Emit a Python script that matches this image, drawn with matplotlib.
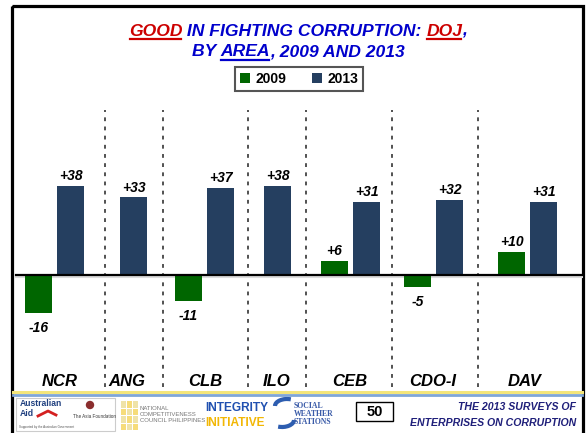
import matplotlib
matplotlib.use("Agg")
import matplotlib.pyplot as plt
from matplotlib.patches import Rectangle, Arc
from matplotlib.transforms import blended_transform_factory

plt.rcParams['font.family'] = ['Liberation Sans', 'DejaVu Sans']

# data
areas = ["NCR", "ANG", "CLB", "ILO", "CEB", "CDO-I", "DAV"]
v2009 = [-16, None, -11, None, 6, -5, 10]
v2013 = [38, 33, 37, 38, 31, 32, 31]
series_names = ["2009", "2013"]

# layout (x in pixels of the 586 px wide figure)
centers = [54.5, 133.5, 204.5, 277.5, 350.5, 433.5, 527.5]
label_x = [60, 127, 205, 277, 350, 433, 525]
dividers = [105, 163, 248, 306, 392, 478]
BAR_W = 27
OFF = 16
GREEN = "#006600"
NAVY = "#253F60"
BLUE = "#0000CC"
RED = "#CC0000"

W, H = 586, 433
fig = plt.figure(figsize=(W / 100, H / 100), dpi=100)

# decoration layer in pixel coordinates
deco = fig.add_axes([0, 0, 1, 1], zorder=0)
deco.set_xlim(0, W)
deco.set_ylim(H, 0)
deco.axis("off")

# chart axes: x in pixels, y in data units
top_px, bot_px, zero_px, px_per = 100, 390, 275, 2.35
ax = fig.add_axes([13 / W, (H - bot_px) / H, 570 / W, (bot_px - top_px) / H],
                  zorder=2)
ax.patch.set_alpha(0)
ax.set_xlim(13, 583)
ax.set_ylim(-(bot_px - zero_px) / px_per, (zero_px - top_px) / px_per)
ax.axis("off")

h09 = h13 = None
for c, a, b in zip(centers, v2009, v2013):
    if a is None:
        xb = c
    else:
        xa, xb = c - OFF, c + OFF
        h09 = ax.bar(xa, a, width=BAR_W, color=GREEN, zorder=3)
        lab = f"+{a}" if a > 0 else f"{a}"
        ax.annotate(lab, (xa, a), xytext=(0, 2 if a > 0 else -6),
                    textcoords="offset points", ha="center",
                    va="bottom" if a > 0 else "top",
                    fontsize=10, fontweight="bold", fontstyle="italic")
    h13 = ax.bar(xb, b, width=BAR_W, color=NAVY, zorder=3)
    ax.annotate(f"+{b}", (xb, b), xytext=(0, 2), textcoords="offset points",
                ha="center", va="bottom", fontsize=10, fontweight="bold",
                fontstyle="italic")

ax.axhline(-0.9, xmin=3 / 570, color="#dddddd", lw=1.5, zorder=2)
ax.axhline(0, xmin=3 / 570, color="black", lw=1.6, zorder=4)
for d in dividers:
    ax.axvline(d, ymin=0.01, ymax=(bot_px - 110) / (bot_px - top_px),
               color="#222222", lw=1.1, dashes=(2.5, 3.5), zorder=1)

trans = blended_transform_factory(ax.transData, ax.transAxes)
for x, name in zip(label_x, areas):
    ax.text(x, (bot_px - 381) / (bot_px - top_px), name, transform=trans,
            ha="center", va="center", fontsize=12, fontweight="bold",
            fontstyle="italic")

leg = ax.legend([h09, h13], series_names, loc="center",
                bbox_to_anchor=(299 / W, 1 - 79 / H),
                bbox_transform=fig.transFigure, ncol=2, fancybox=False,
                framealpha=1, edgecolor="#555555", handlelength=0.75,
                handleheight=0.75, handletextpad=0.4, columnspacing=1.8,
                borderpad=0.35, borderaxespad=0,
                prop={"weight": "bold", "size": 10})
leg.get_frame().set_linewidth(1.5)

# frame
deco.add_patch(Rectangle((12, 6), 571, 450, fill=False, lw=2.3,
                         edgecolor="black"))

# title, drawn piece by piece so some words can be red and underlined
renderer = fig.canvas.get_renderer()
title_lines = [
    (31, [("GOOD", RED, True), (" IN FIGHTING CORRUPTION: ", BLUE, False),
          ("DOJ", RED, True), (",", BLUE, False)]),
    (52, [("BY ", BLUE, False), ("AREA", BLUE, True),
          (", 2009 AND 2013", BLUE, False)]),
]
for y, parts in title_lines:
    texts = []
    for s, col, ul in parts:
        t = deco.text(0, y, s, color=col, fontsize=12.6, fontweight="bold",
                      fontstyle="italic", ha="left", va="center")
        texts.append((t, col, ul))
    widths = [t.get_window_extent(renderer).width for t, _, _ in texts]
    x = 298 - sum(widths) / 2
    for (t, col, ul), w in zip(texts, widths):
        t.set_x(x)
        if ul:
            deco.plot([x + 1, x + w - 1], [y + 8, y + 8], color=col, lw=1.6)
        x += w

# footer stripes
deco.plot([13, 582], [391.5, 391.5], color="#F3E57A", lw=2.2)
deco.plot([13, 582], [394.5, 394.5], color="#7FA6D8", lw=2.0)

# logos (approximated)
deco.add_patch(Rectangle((16, 398), 99, 33, facecolor="white",
                         edgecolor="#cccccc", lw=0.8))
deco.text(20, 404, "Australian", color="#1F3F7F", fontsize=6.2,
          fontweight="bold", va="center")
deco.text(20, 413, "Aid", color="#1F3F7F", fontsize=6.2, fontweight="bold",
          va="center")
deco.plot([38, 48, 56], [416, 411, 415], color="#D42020", lw=2)
deco.add_patch(plt.Circle((90, 405), 3.5, color="#8B2E2E"))
deco.text(73, 416, "The Asia Foundation", color="#333333", fontsize=3.3,
          va="center")
deco.text(19, 427, "Supported by the Australian Government", color="#555555",
          fontsize=2.2, va="center")

for i in range(3):
    for j in range(4):
        deco.add_patch(Rectangle((121 + i * 6, 401 + j * 7.5), 5.2, 6.7,
                                 facecolor="#F6DC7A" if (i + j) % 2 else "#EFE3A8",
                                 edgecolor="none"))
deco.text(140, 414.5, "NATIONAL\nCOMPETITIVENESS\nCOUNCIL PHILIPPINES",
          color="#777777", fontsize=4.3, va="center", linespacing=1.25)

deco.text(205, 408, "INTEGRITY", color="#2050B0", fontsize=8.6,
          fontweight="bold", va="center")
deco.text(205, 423, "INITIATIVE", color="#F2B705", fontsize=8.6,
          fontweight="bold", va="center")

deco.add_patch(Arc((287, 406), 24, 14, theta1=180, theta2=300,
                   color="#2D5DB0", lw=3))
deco.add_patch(Arc((282, 420), 24, 14, theta1=0, theta2=120,
                   color="#2D5DB0", lw=3))
deco.text(294, 414.5, "SOCIAL\nWEATHER\nSTATIONS", color="#3A5BA8",
          fontsize=5.6, family="Liberation Serif", fontweight="bold",
          va="center", linespacing=1.0)

deco.add_patch(Rectangle((356, 402), 37, 19, facecolor="white",
                         edgecolor="black", lw=1))
deco.text(374.5, 411.5, "50", fontsize=10.5, fontweight="bold", ha="center",
          va="center")

deco.text(576, 407, "THE 2013 SURVEYS OF", color="#1F1F7A", fontsize=7.6,
          fontweight="bold", fontstyle="italic", ha="right", va="center")
deco.text(576, 423, "ENTERPRISES ON CORRUPTION", color="#1F1F7A",
          fontsize=7.6, fontweight="bold", fontstyle="italic", ha="right",
          va="center")

fig.savefig("out.png", dpi=100)
